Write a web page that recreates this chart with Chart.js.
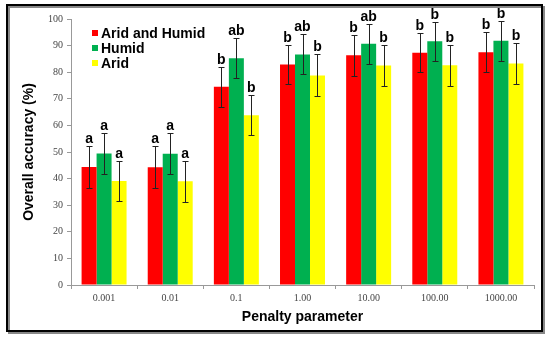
<!DOCTYPE html>
<html>
<head>
<meta charset="utf-8">
<script src="https://cdn.jsdelivr.net/npm/chart.js@4.4.0/dist/chart.umd.min.js"></script>
<style>
  html, body { margin: 0; padding: 0; background: #fff; }
  canvas { display: block; }
</style>
</head>
<body>
<canvas id="chart" width="550" height="342"></canvas>
<script>
// penalty parameter values on x axis
var categories = ["0.001", "0.01", "0.1", "1.00", "10.00", "100.00", "1000.00"];
var seriesNames = ["Arid and Humid", "Humid", "Arid"];

var aridHumid = [44.4, 44.3, 74.5, 82.9, 86.4, 87.3, 87.5];
var humid     = [49.4, 49.3, 85.2, 86.7, 90.7, 91.6, 91.8];
var arid      = [39.1, 39.0, 63.8, 78.8, 82.5, 82.6, 83.3];

// +/- error (std dev)
var aridHumidErr = [7.8, 7.8, 7.4, 7.4, 7.7, 7.3, 7.5];
var humidErr     = [7.7, 7.7, 7.5, 7.5, 7.6, 7.4, 7.6];
var aridErr      = [7.7, 7.7, 7.5, 7.9, 7.6, 7.8, 7.6];

// significance letters
var aridHumidLetters = ["a", "a", "b", "b", "b", "b", "b"];
var humidLetters     = ["a", "a", "ab", "ab", "ab", "b", "b"];
var aridLetters      = ["a", "a", "b", "b", "b", "b", "b"];

var yTicks = [0, 10, 20, 30, 40, 50, 60, 70, 80, 90, 100];

var colors = ["#ff0000", "#00b050", "#ffff00"];

var errorBars = {
  id: 'errorBars',
  afterDatasetsDraw: function(chart) {
    var ctx = chart.ctx;
    var y = chart.scales.y;
    ctx.save();
    chart.data.datasets.forEach(function(ds, i) {
      var meta = chart.getDatasetMeta(i);
      meta.data.forEach(function(bar, j) {
        var v = ds.data[j], e = ds.errors[j];
        var top = Math.round(y.getPixelForValue(v + e)) + 0.5;
        var bot = Math.round(y.getPixelForValue(v - e)) + 0.5;
        var x = Math.round(bar.x) + 0.5;
        ctx.strokeStyle = '#222';
        ctx.lineWidth = 1;
        ctx.beginPath();
        ctx.moveTo(x, top); ctx.lineTo(x, bot);
        ctx.moveTo(x - 3, top); ctx.lineTo(x + 3, top);
        ctx.moveTo(x - 3, bot); ctx.lineTo(x + 3, bot);
        ctx.stroke();
        ctx.fillStyle = '#000';
        ctx.font = 'bold 14px Arial, "Liberation Sans", sans-serif';
        ctx.textAlign = 'center';
        ctx.textBaseline = 'alphabetic';
        ctx.fillText(ds.letters[j], bar.x, top - 4);
      });
    });
    ctx.restore();
  }
};

var frameAndLegend = {
  id: 'frameAndLegend',
  beforeDraw: function(chart) {
    var ctx = chart.ctx;
    ctx.save();
    ctx.fillStyle = '#fff';
    ctx.fillRect(0, 0, chart.width, chart.height);
    ctx.restore();
  },
  afterDraw: function(chart) {
    var ctx = chart.ctx;
    ctx.save();
    // shadow then frame
    ctx.strokeStyle = '#888';
    ctx.lineWidth = 2;
    ctx.strokeRect(9, 7, 535, 326);
    ctx.strokeStyle = '#000';
    ctx.strokeRect(7, 5, 535, 326);
    // legend
    ctx.font = 'bold 14px Arial, "Liberation Sans", sans-serif';
    ctx.textBaseline = 'middle';
    ctx.textAlign = 'left';
    chart.data.datasets.forEach(function(ds, i) {
      var cy = 33 + i * 15;
      ctx.fillStyle = ds.backgroundColor;
      ctx.fillRect(92, cy - 3, 6, 6);
      ctx.fillStyle = '#000';
      ctx.fillText(ds.label, 101, cy + 1);
    });
    ctx.restore();
  }
};

new Chart(document.getElementById('chart'), {
  type: 'bar',
  data: {
    labels: categories,
    datasets: [
      { label: seriesNames[0], data: aridHumid, errors: aridHumidErr, letters: aridHumidLetters, backgroundColor: colors[0] },
      { label: seriesNames[1], data: humid, errors: humidErr, letters: humidLetters, backgroundColor: colors[1] },
      { label: seriesNames[2], data: arid, errors: aridErr, letters: aridLetters, backgroundColor: colors[2] }
    ]
  },
  options: {
    responsive: false,
    animation: false,
    devicePixelRatio: 1,
    layout: { padding: { left: 21, right: 16, top: 19, bottom: 12 } },
    datasets: { bar: { barPercentage: 1, categoryPercentage: 0.68 } },
    scales: {
      y: {
        min: 0, max: 100,
        afterFit: function(s) { s.width = 50; },
        afterBuildTicks: function(s) { s.ticks = yTicks.map(function(v) { return { value: v }; }); },
        border: { color: '#999', width: 1 },
        grid: { drawOnChartArea: false, tickLength: 4, color: '#999' },
        ticks: { color: '#444', padding: 4, font: { family: '"Liberation Serif", "Times New Roman", serif', size: 10 } },
        title: { display: true, text: 'Overall accuracy (%)', color: '#000', padding: 0,
                 font: { family: 'Arial, "Liberation Sans", sans-serif', size: 14, weight: 'bold' } }
      },
      x: {
        afterFit: function(s) { s.height = 45; },
        border: { color: '#999', width: 1 },
        grid: { drawOnChartArea: false, tickLength: 4, color: '#999', offset: true },
        ticks: { color: '#444', padding: 3, maxRotation: 0, font: { family: '"Liberation Serif", "Times New Roman", serif', size: 10 } },
        title: { display: true, text: 'Penalty parameter', color: '#000', padding: { top: 12 },
                 font: { family: 'Arial, "Liberation Sans", sans-serif', size: 14, weight: 'bold' } }
      }
    },
    plugins: {
      legend: { display: false },
      tooltip: { enabled: false }
    }
  },
  plugins: [errorBars, frameAndLegend]
});
</script>
</body>
</html>
